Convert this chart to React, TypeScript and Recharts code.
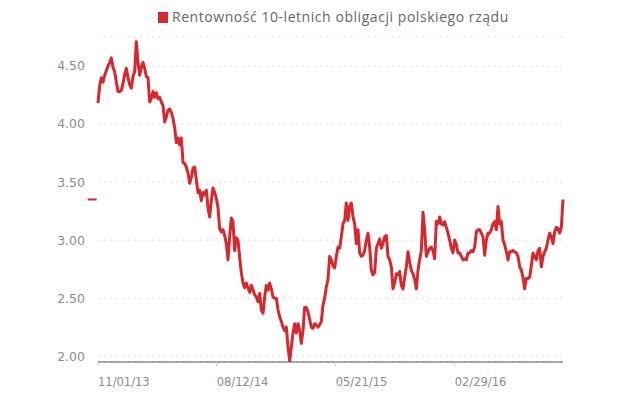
import React from 'react';
import {
    LineChart, Line, XAxis, YAxis, CartesianGrid, ReferenceLine,
} from 'recharts';

const RED = '#d7282e';

const SERIES_NAME = 'Rentowność 10-letnich obligacji polskiego rządu';

// yield readings, evenly spaced in time (Nov 2013 -> Nov 2016)
const YIELDS = [
    4.18, 4.33, 4.40, 4.36, 4.42, 4.46, 4.50, 4.53, 4.57, 4.49,
    4.45, 4.36, 4.28, 4.28, 4.29, 4.35, 4.43, 4.48, 4.40, 4.34,
    4.31, 4.41, 4.45, 4.71, 4.53, 4.42, 4.49, 4.53, 4.48, 4.41,
    4.40, 4.19, 4.22, 4.28, 4.23, 4.27, 4.22, 4.23, 4.19, 4.16,
    4.02, 4.06, 4.12, 4.13, 4.10, 4.05, 3.97, 3.84, 3.88, 3.82,
    3.88, 3.67, 3.66,
    3.63, 3.58, 3.49, 3.54, 3.62, 3.63, 3.52, 3.41, 3.43, 3.34,
    3.41, 3.39, 3.43, 3.28, 3.20, 3.34, 3.45, 3.41, 3.36, 3.28,
    3.10, 3.07, 3.09, 3.04, 2.97, 2.83, 3.03, 3.19, 3.16, 2.91,
    3.02, 3.00, 2.85, 2.72, 2.63, 2.59, 2.63, 2.59, 2.55, 2.61,
    2.57, 2.53, 2.51, 2.47, 2.54, 2.40, 2.37, 2.51, 2.61, 2.57,
    2.63, 2.58, 2.51, 2.50, 2.50, 2.40,
    2.34, 2.30, 2.25, 2.22, 2.25, 2.08, 1.96, 2.08, 2.20, 2.28,
    2.20, 2.28, 2.22, 2.11, 2.22, 2.42, 2.42, 2.38, 2.32, 2.25,
    2.24, 2.28, 2.27, 2.25, 2.27, 2.30, 2.44, 2.50, 2.60, 2.66,
    2.86, 2.83, 2.78, 2.76, 2.86, 2.94, 2.93, 3.03, 3.14, 3.17,
    3.32, 3.17, 3.29, 3.32, 3.20, 3.14, 2.97, 3.09, 2.89, 2.86,
    2.87, 2.91, 3.00, 3.06, 2.94, 2.74, 2.70,
    2.72, 2.93, 2.97, 3.01, 2.93, 2.97, 3.03, 3.04, 2.86, 2.83,
    2.77, 2.58, 2.63, 2.71, 2.70, 2.73, 2.61, 2.58, 2.68, 2.77,
    2.90, 2.81, 2.74, 2.71, 2.66, 2.58, 2.74, 2.83, 2.91, 3.24,
    3.09, 2.86, 2.90, 2.93, 2.94, 2.91, 2.84, 3.16, 3.14, 3.20,
    3.14, 3.13, 3.16, 3.11, 3.06, 3.00, 2.93, 2.89, 3.00, 2.96,
    2.89, 2.89, 2.86, 2.83, 2.84, 2.83, 2.89,
    2.89, 2.91, 2.90, 2.94, 3.07, 3.09, 3.09, 3.06, 3.03, 2.87,
    3.00, 3.06, 3.06, 3.09, 3.14, 3.16, 3.09, 3.29, 3.14, 3.16,
    3.00, 2.96, 2.90, 2.83, 2.90, 2.90, 2.91, 2.90, 2.89, 2.86,
    2.77, 2.74, 2.68, 2.58, 2.67, 2.67, 2.68, 2.78, 2.89, 2.86,
    2.83, 2.91, 2.93, 2.77, 2.86, 2.90, 2.93, 3.00, 3.06, 3.03,
    2.97, 3.07, 3.11, 3.10, 3.06, 3.11, 3.35,
];

const X_TICKS = [0, 71.2, 142.6, 214];
const X_LABELS = ['11/01/13', '08/12/14', '05/21/15', '02/29/16'];
const Y_TICKS = [2, 2.5, 3, 3.5, 4, 4.5];
const LAST_VALUE = 3.35;

const data = YIELDS.map((v, i) => ({ i, v }));
const FONT = '"DejaVu Sans", sans-serif';

const XTick = ({ x, y, payload }: any) => {
    const idx = X_TICKS.indexOf(payload.value);
    return (
        <text x={Number(x)} y={Number(y) + 18} textAnchor="start"
            fill="#8c8c8c" fontSize={11.5} fontFamily={FONT}>
            {X_LABELS[idx]}
        </text>
    );
};

export default function App() {
    return (
        <div style={{ position: 'absolute', left: 0, top: 0, width: 640, height: 395, background: '#fff' }}>
            <div style={{
                position: 'absolute', left: 158, top: 8, display: 'flex', alignItems: 'center',
                fontFamily: '"Open Sans", sans-serif', fontSize: 14, color: '#666', lineHeight: '18px',
                letterSpacing: 0.55, whiteSpace: 'nowrap',
            }}>
                <span style={{ width: 10, height: 11, background: RED, marginRight: 4, display: 'inline-block' }} />
                <span>{SERIES_NAME}</span>
            </div>
            <LineChart width={640} height={395} data={data}
                margin={{ top: 37, right: 77, bottom: 3, left: 38 }}>
                <CartesianGrid vertical={false} stroke="#dcdcdc" strokeDasharray="2 4" />
                <XAxis
                    type="number"
                    dataKey="i"
                    domain={[0, YIELDS.length - 1]}
                    ticks={X_TICKS}
                    tick={<XTick />}
                    height={30}
                    tickSize={4}
                    axisLine={{ stroke: '#555' }}
                    tickLine={{ stroke: '#c8c8c8' }}
                />
                <YAxis
                    domain={[1.95, 4.75]}
                    allowDataOverflow
                    ticks={Y_TICKS}
                    width={60}
                    axisLine={false}
                    tickLine={false}
                    tickSize={0}
                    tickMargin={13}
                    tickFormatter={(v: number) => v.toFixed(2)}
                    tick={{ fill: '#8c8c8c', fontSize: 12.5, fontFamily: FONT }}
                />
                <ReferenceLine
                    segment={[{ x: -6.2, y: LAST_VALUE }, { x: -0.8, y: LAST_VALUE }]}
                    stroke={RED}
                    strokeWidth={2}
                    ifOverflow="visible"
                />
                <Line
                    type="linear"
                    dataKey="v"
                    stroke={RED}
                    strokeWidth={3}
                    strokeLinejoin="round"
                    dot={false}
                    isAnimationActive={false}
                />
            </LineChart>
        </div>
    );
}
